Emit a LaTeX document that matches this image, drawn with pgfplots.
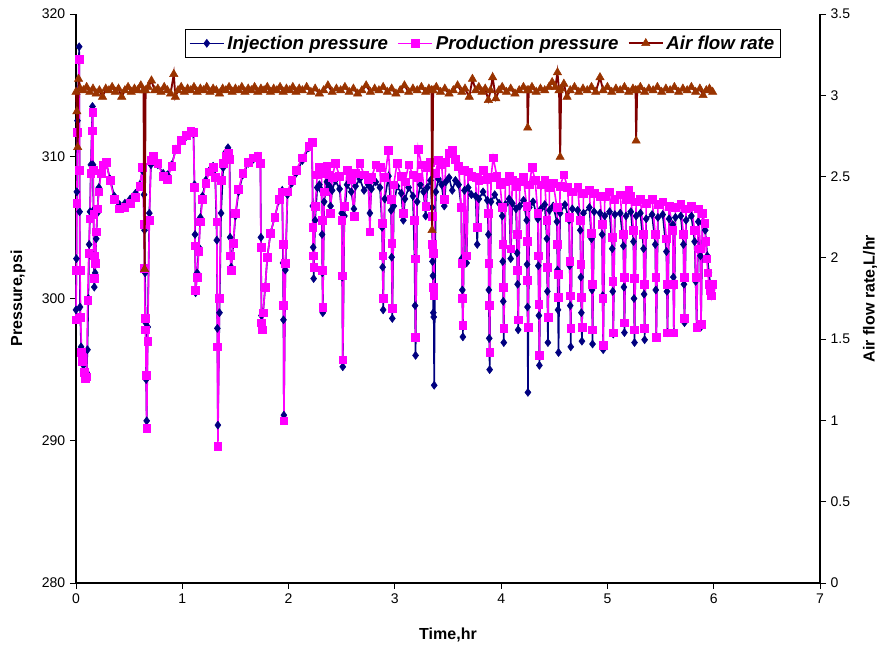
\documentclass[border=0pt]{standalone}
\usepackage{fontspec}
\setmainfont{Liberation Sans}
\usepackage{pgfplots}
\pgfplotsset{compat=1.18}
\definecolor{injc}{RGB}{0,0,128}
\definecolor{prodc}{RGB}{255,0,255}
\definecolor{airl}{RGB}{128,0,0}
\definecolor{airm}{RGB}{153,51,0}
\pgfplotsset{
  injstyle/.style={color=injc, line width=1.2pt, mark=diamond*, mark size=3pt, mark options={solid, fill=injc, draw=injc, line width=0.4pt}},
  prodstyle/.style={color=prodc, line width=1.2pt, mark=square*, mark size=2.9pt, mark options={solid, fill=prodc, draw=prodc, line width=0.4pt}},
  airstyle/.style={color=airl, line width=1.4pt, mark=triangle*, mark size=3.6pt, mark options={solid, fill=airm, draw=airm, line width=0.4pt}},
}
\begin{document}
\begin{tikzpicture}
\useasboundingbox (-57pt,-48.75pt) rectangle (603.75pt,437.25pt);
\begin{axis}[
  at={(0,0)}, anchor=south west,
  scale only axis, width=558pt, height=426.75pt,
  xmin=0, xmax=7, ymin=280, ymax=320,
  xtick={0,1,2,3,4,5,6,7}, ytick={280,290,300,310,320},
  axis x line*=bottom, axis y line*=left,
  axis line style={black, line width=0.8pt, -},
  tick align=outside, major tick length=4.5pt,
  tick style={black, line width=0.7pt},
  /pgf/number format/assume math mode=true,
  ticklabel style={font=\fontsize{10.5}{12}\selectfont},
  xlabel={Time,hr}, ylabel={Pressure,psi},
  label style={font=\fontsize{12}{14}\selectfont\bfseries},
  xlabel style={at={(axis description cs:0.5,-0.0914)}, anchor=center},
  ylabel style={at={(axis description cs:-0.078,0.5)}, anchor=center},
  clip=false,
  legend style={at={(0.547,0.9736)}, anchor=north, legend columns=3, draw=black, line width=0.8pt,
    font=\fontsize{14}{16}\selectfont\bfseries\itshape, inner sep=2.5pt,
    /tikz/every even column/.append style={column sep=5pt}},
  legend cell align=left,
  legend image code/.code={\draw[mark repeat=2,mark phase=2] plot coordinates {(0cm,0cm) (0.45cm,0cm) (0.9cm,0cm)};},
]
\addplot[injstyle] table {
0.000 299.2
0.004 302.8
0.008 307.5
0.014 312.5
0.030 317.7
0.034 306.1
0.038 299.4
0.048 296.6
0.058 296.3
0.070 295.3
0.085 294.6
0.100 294.8
0.108 296.4
0.116 300.0
0.124 303.8
0.132 306.1
0.140 309.4
0.155 313.5
0.160 309.4
0.164 306.2
0.168 303.0
0.172 300.8
0.180 301.8
0.190 304.2
0.200 306.0
0.215 307.8
0.235 308.8
0.255 309.3
0.285 309.5
0.320 308.4
0.360 307.2
0.410 306.6
0.460 306.7
0.510 307.0
0.560 307.4
0.600 308.0
0.625 309.0
0.640 307.3
0.645 304.8
0.650 301.8
0.655 298.3
0.660 294.3
0.665 291.4
0.675 298.0
0.690 306.0
0.705 309.4
0.730 309.9
0.770 309.4
0.820 308.8
0.860 308.7
0.900 309.4
0.940 310.5
0.990 311.1
1.040 311.4
1.080 311.7
1.105 311.6
1.115 308.0
1.120 304.5
1.125 300.4
1.140 301.8
1.155 303.6
1.170 305.7
1.190 307.2
1.220 308.3
1.255 309.0
1.290 309.3
1.310 308.6
1.325 304.1
1.330 297.9
1.335 291.1
1.350 299.0
1.365 306.0
1.385 309.2
1.410 310.3
1.430 310.6
1.445 310.2
1.450 304.3
1.460 302.2
1.480 303.8
1.500 305.8
1.530 307.5
1.570 308.7
1.620 309.5
1.670 309.8
1.710 310.0
1.735 309.6
1.740 304.3
1.745 298.8
1.760 299.0
1.780 300.8
1.800 302.9
1.830 304.6
1.870 305.7
1.910 306.9
1.940 307.6
1.948 302.5
1.952 298.5
1.956 291.8
1.970 302.0
1.990 307.3
2.030 308.1
2.070 308.8
2.130 309.7
2.190 310.6
2.220 310.9
2.228 306.5
2.232 303.6
2.236 301.4
2.250 305.5
2.270 307.8
2.290 308.0
2.310 307.6
2.315 304.5
2.318 301.8
2.322 299.0
2.335 306.8
2.360 308.2
2.385 307.9
2.395 306.5
2.410 307.6
2.440 308.3
2.480 307.7
2.500 306.0
2.505 301.5
2.510 295.2
2.525 305.8
2.550 308.0
2.590 307.5
2.615 306.3
2.630 307.9
2.670 308.4
2.710 307.6
2.750 308.0
2.765 306.0
2.780 307.7
2.820 308.2
2.860 307.8
2.880 305.0
2.885 302.2
2.890 299.2
2.905 307.0
2.940 308.6
2.965 306.2
2.970 302.9
2.976 298.6
2.990 306.5
3.020 307.9
3.060 307.4
3.080 305.5
3.095 307.0
3.130 307.8
3.170 307.2
3.185 302.8
3.190 299.5
3.195 296.0
3.210 306.8
3.240 308.0
3.270 307.5
3.290 305.8
3.305 307.8
3.335 308.3
3.350 306.4
3.354 302.6
3.358 301.6
3.362 299.0
3.366 298.7
3.370 293.9
3.385 307.5
3.410 308.4
3.440 308.0
3.465 306.5
3.480 308.2
3.510 308.5
3.540 307.6
3.570 308.3
3.600 308.0
3.625 306.4
3.630 302.8
3.635 300.6
3.640 297.3
3.655 307.6
3.675 302.5
3.690 307.8
3.720 307.3
3.760 307.2
3.775 303.8
3.790 307.0
3.830 307.5
3.870 306.9
3.880 304.5
3.884 300.6
3.888 297.2
3.892 295.0
3.905 306.8
3.940 307.3
3.980 306.7
4.010 305.8
4.015 302.6
4.020 299.8
4.025 296.9
4.040 306.6
4.075 307.0
4.090 302.8
4.105 306.7
4.140 306.3
4.150 303.2
4.155 301.0
4.160 297.8
4.175 306.5
4.210 306.9
4.240 305.5
4.244 302.4
4.248 299.4
4.252 293.4
4.265 306.4
4.300 306.8
4.345 305.6
4.350 302.3
4.355 298.8
4.360 295.3
4.375 306.3
4.410 306.6
4.430 304.2
4.435 300.5
4.440 296.9
4.455 306.2
4.490 306.5
4.525 305.4
4.530 302.0
4.535 299.2
4.540 296.2
4.555 306.0
4.600 306.6
4.640 305.5
4.645 302.3
4.650 299.5
4.655 296.6
4.670 306.3
4.720 306.2
4.745 304.8
4.750 301.5
4.755 299.0
4.760 297.0
4.775 306.0
4.830 306.4
4.850 304.2
4.855 300.6
4.860 296.8
4.875 306.1
4.930 306.0
4.950 304.5
4.955 300.2
4.960 296.4
4.975 305.8
5.020 306.1
5.045 303.5
5.050 300.5
5.055 297.5
5.070 305.9
5.120 306.0
5.150 303.7
5.155 300.8
5.160 297.6
5.175 305.8
5.220 306.1
5.245 304.0
5.250 300.0
5.255 296.9
5.270 305.8
5.310 306.0
5.340 303.5
5.345 300.3
5.350 297.1
5.365 305.6
5.420 305.9
5.450 303.8
5.455 300.6
5.460 297.3
5.475 305.7
5.520 305.9
5.555 303.3
5.560 300.5
5.565 297.6
5.580 305.6
5.615 305.2
5.620 301.5
5.625 297.6
5.640 305.7
5.690 305.8
5.715 303.8
5.720 301.0
5.725 298.3
5.740 305.5
5.790 305.8
5.820 304.0
5.830 301.2
5.840 298.0
5.855 305.4
5.875 303.0
5.880 298.0
5.895 305.3
5.920 304.8
5.940 303.0
5.955 301.8
5.970 300.9
5.985 300.6
};
\addlegendentry{Injection pressure}
\addplot[prodstyle] table {
0.000 298.5
0.004 302.0
0.008 306.7
0.014 311.7
0.030 316.8
0.034 309.0
0.038 302.0
0.044 298.7
0.052 296.2
0.062 295.6
0.075 294.8
0.090 294.4
0.100 294.5
0.110 299.9
0.120 303.2
0.130 305.6
0.140 308.8
0.150 311.8
0.158 313.1
0.162 309.0
0.166 305.9
0.170 303.0
0.174 301.4
0.182 302.5
0.192 304.7
0.202 306.3
0.215 307.5
0.235 308.8
0.255 309.4
0.285 309.6
0.320 308.3
0.360 307.0
0.410 306.3
0.460 306.4
0.510 306.7
0.560 307.1
0.600 307.9
0.625 309.2
0.640 305.2
0.645 302.1
0.650 298.6
0.655 297.8
0.660 294.6
0.665 290.9
0.675 297.0
0.690 305.5
0.705 309.7
0.730 310.0
0.770 309.5
0.820 308.6
0.860 308.4
0.900 309.3
0.940 310.5
0.990 311.1
1.040 311.5
1.080 311.8
1.105 311.7
1.115 307.8
1.120 303.7
1.125 300.6
1.140 301.5
1.155 303.3
1.170 305.4
1.190 307.0
1.220 308.1
1.255 308.9
1.290 309.2
1.310 308.5
1.325 305.4
1.330 296.6
1.335 289.6
1.350 300.0
1.365 308.3
1.385 309.5
1.410 310.0
1.430 310.2
1.445 309.8
1.450 303.0
1.460 302.0
1.480 303.9
1.500 306.0
1.530 307.7
1.570 308.8
1.620 309.6
1.670 309.9
1.710 310.0
1.735 309.5
1.740 303.6
1.745 298.3
1.752 297.8
1.760 299.0
1.780 300.8
1.800 302.9
1.830 304.6
1.870 305.7
1.910 307.0
1.940 307.5
1.948 303.8
1.952 299.5
1.956 291.4
1.970 302.5
1.990 307.5
2.030 308.3
2.070 309.0
2.130 309.9
2.190 310.7
2.220 311.0
2.228 305.0
2.232 303.0
2.236 302.2
2.250 306.5
2.270 308.7
2.290 309.2
2.310 308.8
2.315 305.5
2.318 302.0
2.322 299.4
2.335 307.5
2.360 309.3
2.385 308.7
2.395 306.0
2.410 308.5
2.440 309.5
2.480 308.6
2.500 305.5
2.505 301.6
2.510 295.7
2.525 306.5
2.550 309.0
2.590 308.4
2.615 305.8
2.630 308.8
2.670 309.5
2.710 308.7
2.750 308.4
2.765 304.7
2.780 308.5
2.820 309.4
2.860 309.2
2.880 305.3
2.885 303.0
2.890 300.0
2.905 308.5
2.940 310.4
2.965 307.0
2.970 303.9
2.976 299.3
2.990 308.0
3.020 309.5
3.060 308.6
3.080 306.0
3.095 308.2
3.130 309.4
3.170 308.7
3.185 305.5
3.190 302.8
3.195 297.3
3.210 308.5
3.220 310.5
3.250 309.4
3.290 306.5
3.305 309.2
3.335 309.6
3.350 305.8
3.354 303.8
3.358 303.2
3.362 300.8
3.366 300.2
3.380 308.8
3.410 309.7
3.440 309.4
3.465 307.0
3.480 309.6
3.510 310.2
3.540 310.4
3.570 309.8
3.600 309.3
3.625 306.4
3.630 302.5
3.635 300.0
3.640 298.1
3.655 309.0
3.675 303.0
3.690 308.9
3.720 308.6
3.760 308.5
3.775 305.0
3.790 308.3
3.830 309.0
3.870 308.4
3.880 306.0
3.884 302.5
3.888 299.5
3.892 296.2
3.905 308.5
3.925 309.9
3.960 308.6
3.990 308.0
4.010 306.4
4.015 303.8
4.020 300.8
4.025 297.9
4.040 308.2
4.075 308.6
4.090 303.5
4.105 308.3
4.140 307.9
4.150 304.5
4.155 302.0
4.160 298.5
4.175 308.2
4.210 308.5
4.240 306.5
4.244 304.0
4.248 301.3
4.252 298.0
4.265 308.0
4.290 309.2
4.320 308.3
4.345 306.0
4.350 303.0
4.355 299.6
4.360 296.0
4.375 308.0
4.410 308.3
4.430 305.5
4.435 302.2
4.440 298.7
4.455 307.8
4.490 308.1
4.525 306.4
4.530 303.8
4.535 301.7
4.540 300.1
4.555 307.9
4.590 308.7
4.625 307.8
4.640 305.7
4.645 302.6
4.650 300.2
4.655 297.9
4.670 307.5
4.720 307.8
4.745 305.5
4.750 302.4
4.755 300.1
4.760 298.0
4.775 307.4
4.830 307.6
4.850 304.6
4.855 301.0
4.860 297.8
4.875 307.4
4.930 307.2
4.950 305.2
4.955 300.0
4.960 296.7
4.975 307.2
5.020 307.5
5.045 304.3
5.050 301.2
5.055 297.6
5.070 307.0
5.120 307.3
5.150 304.5
5.155 301.5
5.160 298.3
5.175 307.0
5.200 307.6
5.220 307.2
5.245 304.8
5.250 301.4
5.255 297.8
5.270 306.8
5.310 307.0
5.340 304.5
5.345 301.0
5.350 297.9
5.365 306.7
5.420 307.0
5.450 304.5
5.455 301.5
5.460 297.3
5.475 306.6
5.520 306.8
5.555 304.2
5.560 301.0
5.565 297.6
5.580 306.5
5.615 304.8
5.620 301.0
5.625 297.6
5.640 306.4
5.690 306.6
5.715 304.5
5.720 301.5
5.725 298.6
5.740 306.3
5.790 306.5
5.820 304.8
5.830 301.5
5.840 298.0
5.855 306.3
5.875 303.5
5.880 298.2
5.895 306.0
5.915 305.3
5.925 304.0
5.935 302.8
5.945 301.8
5.955 301.0
5.965 300.6
5.975 300.2
5.985 301.0
};
\addlegendentry{Production pressure}
\addlegendimage{airstyle}
\addlegendentry{Air flow rate}
\end{axis}
\begin{axis}[
  at={(0,0)}, anchor=south west,
  scale only axis, width=558pt, height=426.75pt,
  xmin=0, xmax=7, ymin=0, ymax=3.5,
  axis x line=none, axis y line*=right,
  ytick={0,0.5,1,1.5,2,2.5,3,3.5},
  axis line style={black, line width=0.8pt, -},
  tick align=outside, major tick length=4.5pt,
  tick style={black, line width=0.7pt},
  /pgf/number format/assume math mode=true,
  ticklabel style={font=\fontsize{10.5}{12}\selectfont},
  ylabel={Air flow rate,L/hr},
  label style={font=\fontsize{12}{14}\selectfont\bfseries},
  ylabel style={at={(axis description cs:1.0672,0.5)}, anchor=center},
  clip=false,
]
\addplot[airstyle] table {
0.000 3.02
0.008 2.90
0.016 2.68
0.024 3.10
0.040 3.04
0.070 3.03
0.100 3.05
0.130 3.02
0.160 3.04
0.190 3.01
0.220 3.03
0.250 2.99
0.280 3.04
0.310 3.03
0.340 3.05
0.370 3.02
0.400 3.04
0.430 2.99
0.460 3.03
0.490 3.05
0.520 3.02
0.550 3.04
0.580 3.03
0.610 3.06
0.635 3.03
0.645 1.93
0.655 3.03
0.680 3.05
0.710 3.09
0.740 3.03
0.770 3.04
0.800 3.02
0.830 3.05
0.860 3.03
0.890 3.01
0.920 3.13
0.935 2.99
0.960 3.03
0.990 3.05
1.020 3.02
1.050 3.04
1.080 3.03
1.110 3.05
1.140 3.02
1.170 3.04
1.200 3.03
1.230 3.05
1.260 3.02
1.290 3.04
1.320 3.03
1.350 3.01
1.380 3.04
1.410 3.03
1.440 3.05
1.470 3.02
1.500 3.04
1.530 3.03
1.560 3.05
1.590 3.02
1.620 3.04
1.650 3.03
1.680 3.05
1.710 3.02
1.740 3.04
1.770 3.03
1.800 3.05
1.830 3.02
1.860 3.04
1.890 3.03
1.920 3.05
1.950 3.02
1.980 3.04
2.010 3.03
2.040 3.05
2.070 3.02
2.100 3.04
2.130 3.03
2.170 3.05
2.210 3.02
2.250 3.04
2.290 3.01
2.330 3.03
2.370 3.06
2.410 3.02
2.450 3.04
2.490 3.03
2.530 3.05
2.570 3.02
2.610 3.04
2.650 3.01
2.690 3.03
2.730 3.06
2.770 3.02
2.810 3.04
2.850 3.03
2.890 3.05
2.930 3.02
2.970 3.04
3.010 3.01
3.050 3.03
3.090 3.06
3.130 3.02
3.170 3.04
3.210 3.03
3.250 3.05
3.290 3.02
3.320 3.04
3.345 3.03
3.350 2.17
3.360 3.03
3.390 3.05
3.430 3.02
3.470 3.04
3.510 3.01
3.550 3.03
3.590 3.06
3.630 3.02
3.660 3.04
3.700 2.99
3.730 3.10
3.760 3.03
3.790 3.05
3.820 3.02
3.850 3.04
3.880 2.97
3.900 3.03
3.920 3.11
3.950 2.98
3.980 3.03
4.010 3.05
4.050 3.02
4.090 3.04
4.130 3.01
4.170 3.03
4.210 3.05
4.245 3.03
4.250 2.80
4.260 3.03
4.290 3.05
4.330 3.02
4.370 3.04
4.410 3.03
4.450 3.05
4.480 3.08
4.510 3.05
4.530 3.14
4.545 3.03
4.555 2.62
4.565 3.04
4.590 3.07
4.620 2.99
4.650 3.03
4.690 3.05
4.730 3.02
4.770 3.04
4.810 3.03
4.850 3.05
4.890 3.02
4.930 3.11
4.960 3.03
5.000 3.05
5.040 3.02
5.080 3.04
5.120 3.03
5.160 3.05
5.200 3.02
5.240 3.04
5.265 3.03
5.270 2.72
5.280 3.03
5.310 3.05
5.350 3.02
5.390 3.04
5.430 3.03
5.470 3.05
5.510 3.02
5.550 3.04
5.590 3.03
5.630 3.05
5.670 3.02
5.710 3.04
5.750 3.03
5.790 3.05
5.830 3.02
5.870 3.04
5.900 3.00
5.930 3.03
5.960 3.04
5.990 3.02
};
\end{axis}
\end{tikzpicture}
\end{document}
